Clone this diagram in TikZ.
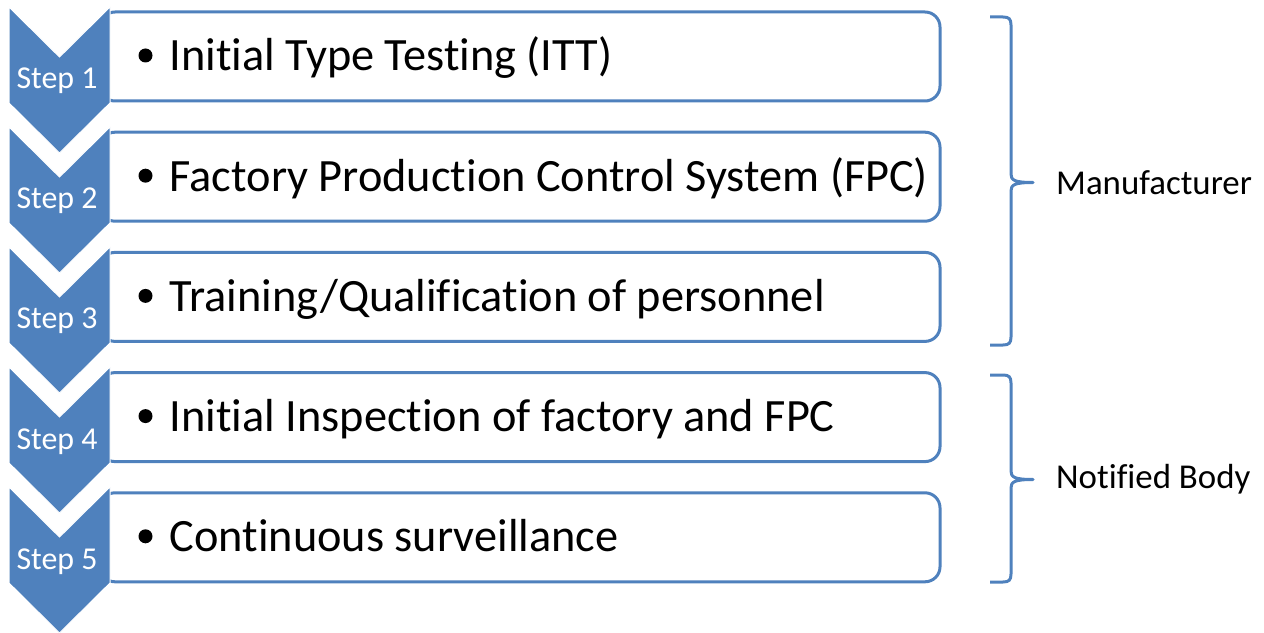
\documentclass[tikz,border=0pt]{standalone}
\usepackage{fontspec}
\setmainfont[RawFeature={-liga}]{Carlito}
\definecolor{ofblue}{HTML}{4F81BD}
\begin{document}
\begin{tikzpicture}[x=1bp,y=-1bp,
  box/.style={draw=ofblue,line width=3bp,fill=white,rounded corners=15bp,minimum width=840bp,minimum height=89bp,inner sep=0pt},
  chev/.style={fill=ofblue,draw=white,line width=1bp},
  steplbl/.style={text=white,font=\fontsize{32}{36}\selectfont,anchor=base,inner sep=0pt},
  itemtxt/.style={font=\fontsize{46.5}{52}\selectfont,anchor=base west,inner sep=0pt},
  bul/.style={circle,fill=black,minimum size=14bp,inner sep=0pt},
  brace/.style={draw=ofblue,line width=3bp,line join=round},
  grp/.style={font=\fontsize{35}{40}\selectfont,anchor=west,inner sep=0pt}]
\useasboundingbox (0,0) rectangle (1264,633);
\foreach \i/\t in {1/{Initial Type Testing (ITT)},2/{Factory Production Control System (FPC)},3/{Training/Qualification of personnel},4/{Initial Inspection of factory and FPC},5/{Continuous surveillance}}{
  \pgfmathsetmacro\yb{56.5+120.2*(\i-1)}
  \pgfmathsetmacro\yt{7+120*(\i-1)}
  \node[box] (box\i) at (520,\yb) {};
  \node[bul] (bul\i) at (145.5,\yb-1) {};
  \node[itemtxt] (txt\i) at (169.5,\yb+14.5) {\t};
  \draw[chev] (9,\yt) -- (59.5,\yt+50) -- (110,\yt) -- (110,\yt+96) -- (59.5,\yt+146) -- (9,\yt+96) -- cycle;
  \node[steplbl] (step\i) at (57,\yt+82) {Step \i};
}
\coordinate (b1t) at (990,17);
\coordinate (b1b) at (990,345);
\coordinate (b1m) at (1033,182.5);
\draw[brace] (b1t) -- (1003,17) .. controls (1009,17) and (1011,19) .. (1011,25)
  -- (1011,174) .. controls (1011,180) and (1014,182.5) .. (b1m)
  .. controls (1014,182.5) and (1011,185) .. (1011,191)
  -- (1011,337) .. controls (1011,343) and (1009,345) .. (1003,345) -- (b1b);
\coordinate (b2t) at (990,375);
\coordinate (b2b) at (990,582);
\coordinate (b2m) at (1033,479.5);
\draw[brace] (b2t) -- (1003,375) .. controls (1009,375) and (1011,377) .. (1011,383)
  -- (1011,471) .. controls (1011,477) and (1014,479.5) .. (b2m)
  .. controls (1014,479.5) and (1011,482) .. (1011,488)
  -- (1011,574) .. controls (1011,580) and (1009,582) .. (1003,582) -- (b2b);
\node[grp] (manu) at (1056,182.5) {Manufacturer};
\node[grp] (nb) at (1056,479.5) {Notified Body};
\end{tikzpicture}
\end{document}
